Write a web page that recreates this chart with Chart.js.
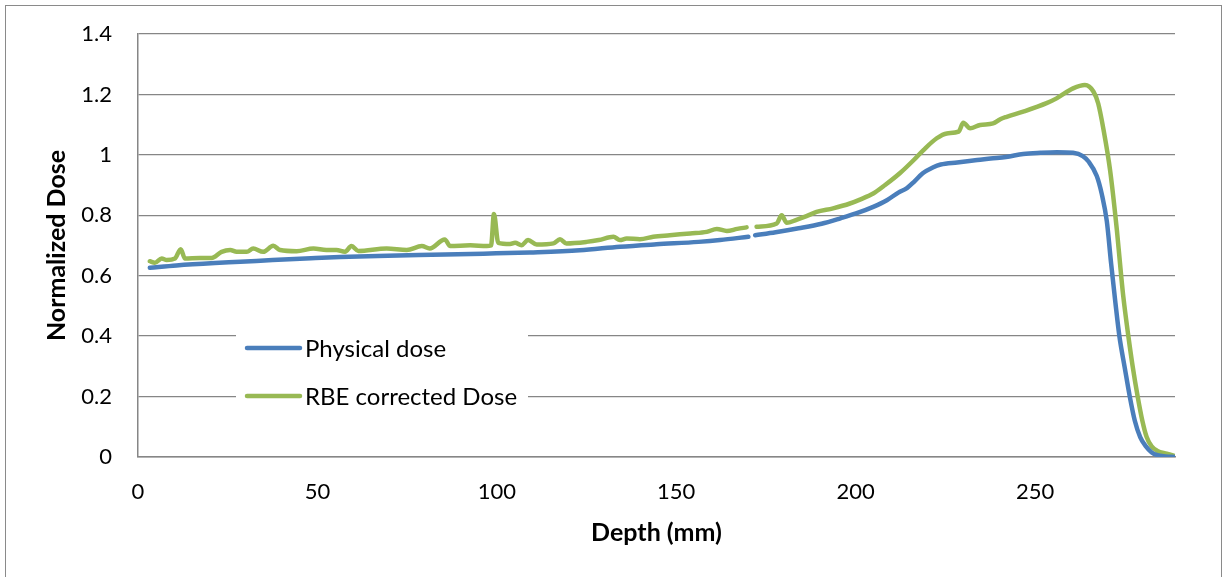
<!DOCTYPE html>
<html>
<head>
<meta charset="utf-8">
<title>Depth dose</title>
<script src="https://cdn.jsdelivr.net/npm/chart.js@4.4.1/dist/chart.umd.min.js"></script>
<style>
  html, body { margin: 0; padding: 0; background: #fff; }
  #wrap { position: relative; width: 1230px; height: 577px; overflow: hidden; }
  #frame { position: absolute; left: 5px; top: 5px; width: 1215px; height: 590px; border: 1.5px solid #8a8a8a; pointer-events: none; }
</style>
</head>
<body>
<div id="wrap">
  <canvas id="doseChart"></canvas>
  <div id="frame"></div>
</div>
<script>
// depth (mm) and normalized dose, null marks the break in the measurement
const physicalDepth = [3.3, 10.7, 21.4, 28.5, 37.5, 48.2, 56.3, 69.6, 85.6, 96.3, 109.2, 123.1, 134.3, 144.5, 156.2, 162.2, 170.1, 171.0, 172.0, 177.7, 184.1, 190.5, 195.8, 200.1, 204.9, 208.7, 211.9, 214.3, 216.2, 218.7, 221.5, 223.7, 228.3, 233.3, 237.6, 241.9, 246.7, 251.5, 256.1, 260.6, 263.3, 264.9, 267.2, 268.6, 270.0, 271.2, 272.4, 273.5, 275.0, 276.4, 277.8, 279.3, 280.9, 282.5, 284.1, 286.3, 289];
const physicalDose = [0.626, 0.634, 0.642, 0.646, 0.652, 0.658, 0.662, 0.666, 0.670, 0.673, 0.677, 0.684, 0.696, 0.704, 0.712, 0.718, 0.729, null, 0.734, 0.744, 0.757, 0.772, 0.790, 0.806, 0.828, 0.850, 0.875, 0.890, 0.910, 0.939, 0.958, 0.968, 0.975, 0.982, 0.988, 0.993, 1.003, 1.007, 1.009, 1.007, 0.996, 0.978, 0.930, 0.870, 0.780, 0.640, 0.510, 0.400, 0.295, 0.200, 0.120, 0.066, 0.035, 0.015, 0.006, 0.002, 0];

const rbeDepth = [3.3, 4.7, 6.6, 8.0, 10.3, 11.9, 13.1, 17.2, 20.5, 23.3, 25.7, 27.5, 30.3, 32.1, 34.9, 37.7, 39.6, 44.2, 48.9, 52.5, 55.3, 57.7, 59.5, 61.4, 69.3, 74.9, 79.1, 81.3, 85.5, 87.0, 92.6, 97.2, 98.4, 99.2, 100.4, 103.7, 105.1, 106.9, 108.7, 111.1, 115.8, 117.6, 119.4, 125.0, 128.4, 132.5, 134.3, 136.2, 139.9, 143.6, 148.2, 153.9, 158.5, 161.3, 164.1, 167.0, 169.6, 171.0, 172.4, 178.0, 179.4, 180.8, 183.5, 186.3, 189.1, 193.7, 198.4, 201.2, 204.9, 208.2, 212.3, 216.2, 218.9, 222.6, 225.4, 228.7, 230.0, 231.9, 234.7, 238.3, 240.3, 242.1, 246.7, 253.2, 256.0, 260.6, 263.9, 266.3, 267.6, 269.1, 270.9, 272.8, 274.0, 274.6, 276.0, 277.2, 278.6, 279.9, 281.1, 282.5, 284.1, 286.7, 289];
const rbeDose = [0.648, 0.643, 0.657, 0.652, 0.657, 0.688, 0.657, 0.659, 0.659, 0.679, 0.685, 0.679, 0.679, 0.690, 0.679, 0.699, 0.685, 0.681, 0.690, 0.685, 0.685, 0.679, 0.698, 0.682, 0.690, 0.685, 0.698, 0.690, 0.720, 0.698, 0.701, 0.698, 0.700, 0.804, 0.709, 0.705, 0.709, 0.701, 0.718, 0.703, 0.707, 0.721, 0.707, 0.712, 0.718, 0.729, 0.718, 0.723, 0.721, 0.729, 0.734, 0.740, 0.745, 0.755, 0.748, 0.755, 0.760, null, 0.762, 0.773, 0.800, 0.775, 0.785, 0.797, 0.811, 0.823, 0.839, 0.852, 0.872, 0.900, 0.939, 0.983, 1.016, 1.055, 1.071, 1.077, 1.106, 1.088, 1.099, 1.104, 1.118, 1.126, 1.143, 1.171, 1.187, 1.220, 1.231, 1.209, 1.170, 1.082, 0.950, 0.751, 0.600, 0.530, 0.400, 0.300, 0.200, 0.120, 0.066, 0.035, 0.020, 0.011, 0.003];

const seriesNames = ['Physical dose', 'RBE corrected Dose'];
const seriesColors = ['#4a7ebb', '#98b954'];

function toPoints(xs, ys) {
  return xs.map((x, i) => ({ x: x, y: ys[i] }));
}

const FONT = 'Lato, "Open Sans", sans-serif';
const GRID = '#868686';

// legend sits inside the plot area on a white box
const insideLegend = {
  id: 'insideLegend',
  afterDraw(chart) {
    const ctx = chart.ctx;
    ctx.save();
    ctx.fillStyle = '#fff';
    ctx.fillRect(236, 312, 292, 108);
    const rows = [348, 396];
    chart.data.datasets.forEach((ds, i) => {
      const y = rows[i];
      ctx.strokeStyle = ds.borderColor;
      ctx.lineWidth = 4.5;
      ctx.lineCap = 'round';
      ctx.beginPath();
      ctx.moveTo(247, y);
      ctx.lineTo(300, y);
      ctx.stroke();
      ctx.fillStyle = '#000';
      ctx.font = '24px ' + FONT;
      ctx.textBaseline = 'middle';
      ctx.textAlign = 'left';
      ctx.fillText(ds.label, 305, y + 1);
    });
    ctx.restore();
  }
};

new Chart(document.getElementById('doseChart'), {
  type: 'line',
  data: {
    datasets: [
      {
        label: seriesNames[0],
        data: toPoints(physicalDepth, physicalDose),
        borderColor: seriesColors[0],
        backgroundColor: seriesColors[0],
        borderWidth: 4.5,
        pointRadius: 0,
        cubicInterpolationMode: 'monotone',
        borderCapStyle: 'round',
        borderJoinStyle: 'round',
        spanGaps: false
      },
      {
        label: seriesNames[1],
        data: toPoints(rbeDepth, rbeDose),
        borderColor: seriesColors[1],
        backgroundColor: seriesColors[1],
        borderWidth: 4.5,
        pointRadius: 0,
        cubicInterpolationMode: 'monotone',
        borderCapStyle: 'round',
        borderJoinStyle: 'round',
        spanGaps: false
      }
    ]
  },
  options: {
    responsive: true,
    maintainAspectRatio: false,
    animation: false,
    devicePixelRatio: 1,
    layout: { padding: { left: 0, top: 34, right: 55, bottom: 0 } },
    plugins: {
      legend: { display: false },
      tooltip: { enabled: false }
    },
    scales: {
      x: {
        type: 'linear',
        min: 0,
        max: 289,
        afterFit(scale) { scale.height = 120; },
        grid: { display: false, drawTicks: false },
        border: { display: true, color: GRID, width: 1.5 },
        ticks: {
          stepSize: 50,
          includeBounds: false,
          padding: 22,
          color: '#000',
          font: { family: FONT, size: 22 },
          maxRotation: 0
        },
        title: {
          display: true,
          text: 'Depth (mm)',
          color: '#000',
          font: { family: FONT, size: 25, weight: 'bold' },
          padding: { top: 0, bottom: 29 }
        }
      },
      y: {
        min: 0,
        max: 1.4,
        afterFit(scale) {
          scale.width = 138;
          // label padding would otherwise push the plot top down
          scale.paddingTop = 0;
          scale.paddingBottom = 0;
        },
        grid: { color: GRID, lineWidth: 1.3, drawTicks: false },
        border: { display: true, color: GRID, width: 1.5 },
        ticks: {
          stepSize: 0.2,
          padding: 26,
          color: '#000',
          font: { family: FONT, size: 22 },
          callback: (v) => Math.round(v * 10) / 10
        },
        title: {
          display: true,
          text: 'Normalized Dose',
          color: '#000',
          font: { family: FONT, size: 25, weight: 'bold' },
          padding: { top: 42, bottom: 0 }
        }
      }
    }
  },
  plugins: [insideLegend]
});
</script>
</body>
</html>
